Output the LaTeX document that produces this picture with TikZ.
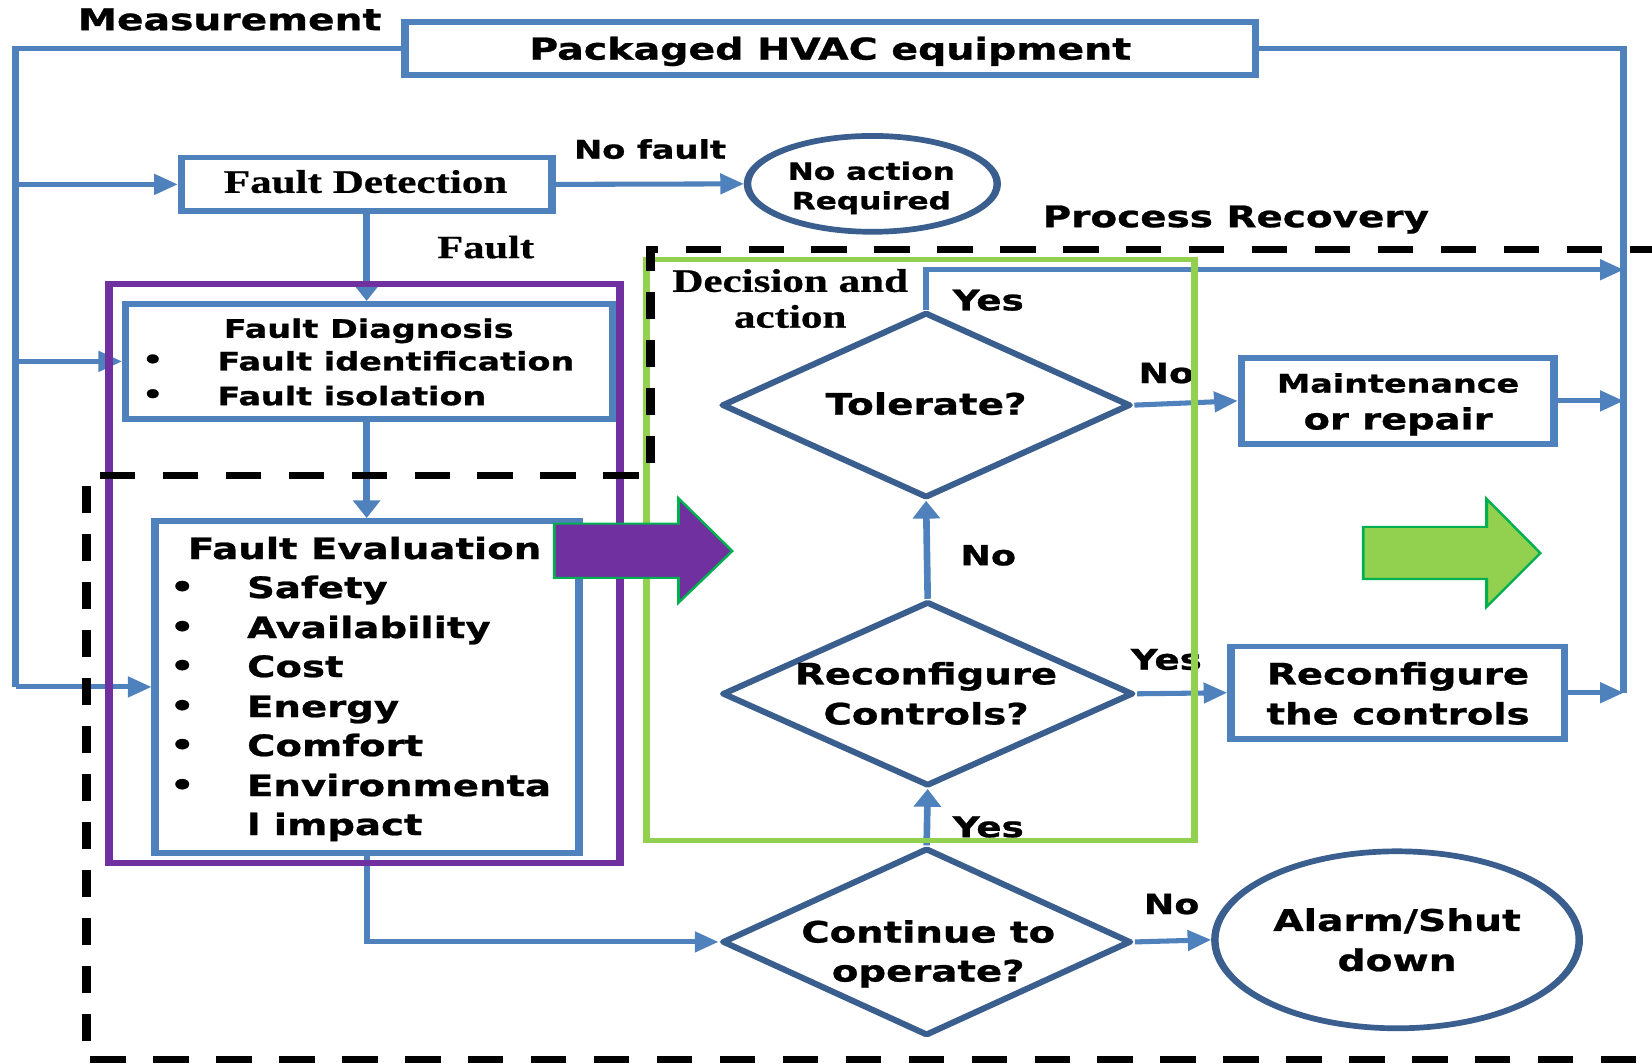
\documentclass[tikz,border=0pt]{standalone}
\usepackage{fontspec}
\setmainfont{DejaVu Sans}[BoldFeatures={FakeBold=0.8}]
\newfontfamily\tnr{Liberation Serif}[BoldFeatures={FakeBold=0.6}]
\usetikzlibrary{shapes.geometric,arrows.meta}
\definecolor{bxblue}{HTML}{4F81BD}
\definecolor{dkblue}{HTML}{3A5F8E}
\definecolor{purp}{HTML}{7030A0}
\definecolor{lgreen}{HTML}{92D050}
\definecolor{dgreen}{HTML}{00B050}
\tikzset{
  bx/.style={rectangle, draw=bxblue, line width=2.7pt, inner sep=0pt, fill=white},
  dm/.style={diamond, draw=dkblue, line width=2.7pt, inner sep=0pt, line join=round, fill=white},
  el/.style={ellipse, draw=dkblue, line width=2.7pt, inner sep=0pt, fill=white},
  conn/.style={draw=bxblue, line width=2.4pt},
  arr/.style={conn, -{Triangle[length=8.5pt,width=9.5pt]}},
  lbl/.style={inner sep=0pt, yshift=-1.2pt, text height=0.72em, text depth=0pt, font=\bfseries\fontsize{#1}{#1}\selectfont},
  tlbl/.style={inner sep=0pt, yshift=-1.2pt, text height=0.66em, text depth=0pt, font=\tnr\bfseries\fontsize{#1}{#1}\selectfont},
  bul/.style={inner sep=0pt, yshift=-0.5pt, font=\bfseries\fontsize{#1}{#1}\selectfont},
  dsh/.style={draw=black, line width=3.3pt, dash pattern=on 12.8pt off 10pt},
  blk/.style={draw=dgreen, line width=1pt, line join=miter},
}
\begin{document}
\begin{tikzpicture}[x=0.5pt,y=-0.5pt]
\useasboundingbox (0,0) rectangle (1568,1009);
\fill[white] (0,0) rectangle (1568,1009);
\begin{scope}[transform canvas={xscale=1.31}, x=0.381679pt, y=-0.5pt]
% main nodes
\node[bx, minimum width=308.2pt, minimum height=25pt] (hvac) at (788,46) {};
\node[bx, minimum width=134.2pt, minimum height=25.5pt] (fd) at (348,175) {};
\node[el, minimum width=90.5pt, minimum height=45.5pt] (noact) at (828,174.5) {};
\node[bx, minimum width=176.5pt, minimum height=54.5pt] (fdiag) at (350.5,343) {};
\node[bx, minimum width=153.6pt, minimum height=157.5pt] (fev) at (348.5,652) {};
\node[dm, minimum width=148.2pt, minimum height=88pt] (tol) at (879,384.5) {};
\node[dm, minimum width=149pt, minimum height=87.5pt] (rc) at (880.5,658.5) {};
\node[dm, minimum width=148.2pt, minimum height=89pt] (cto) at (879.5,894) {};
\node[bx, minimum width=113.2pt, minimum height=41pt] (maint) at (1326.5,380.5) {};
\node[bx, minimum width=120.8pt, minimum height=44pt] (recb) at (1326.5,657.5) {};
\node[el, minimum width=132pt, minimum height=84pt] (alarm) at (1326,892) {};
% buses
\coordinate (lbT) at (15,46);
\coordinate (lbB) at (15,652);
\coordinate (rbT) at (1541,46);
\coordinate (rbB) at (1541,657.5);
\coordinate (yT) at (879,256);
\draw[conn, line join=miter] (hvac.west) -- (lbT) -- (lbB);
\draw[arr] (lbT |- fd.west) -- (fd.west);
\draw[arr] (lbT |- fdiag.west) -- (fdiag.west);
\draw[arr] (lbB) -- (fev.west);
\draw[conn, line join=miter] (hvac.east) -- (rbT) -- (rbB);
\draw[arr] (tol.north) -- (tol.north |- yT) -- (rbT |- yT);
\draw[arr] (maint.east) -- (rbT |- maint.east);
\draw[arr] (recb.east) -- (rbB);
% flow
\draw[arr] (fd.east) -- (noact.west);
\draw[arr] (fd.south) -- (fd.south |- fdiag.north);
\draw[arr] (fd.south |- fdiag.south) -- (fd.south |- fev.north);
\draw[arr] (fev.south) |- (cto.west);
\draw[arr] (tol.east) -- (maint.west);
\draw[arr] (rc.north) -- (tol.south);
\draw[arr] (rc.east) -- (recb.west);
\draw[arr] (cto.north) -- (rc.south);
\draw[arr] (cto.east) -- (alarm.west);
% texts
\node[lbl=14.2] (tMeas) at (218,19) {Measurement};
\node[lbl=14.3] (tHvac) at (788,47) {Packaged HVAC equipment};
\node[tlbl=15.6] (tFD) at (347,174) {Fault Detection};
\node[lbl=12.2] (tNoF) at (617,141) {No fault};
\node[lbl=11.3] (tNA1) at (827,161) {No action};
\node[lbl=11.3] (tNA2) at (827,189) {Required};
\node[tlbl=15.4] (tFault) at (461,236) {Fault};
\node[lbl=14.1] (tPR) at (1173,206) {Process Recovery};
\node[lbl=12.1] (tDg) at (350,311) {Fault Diagnosis};
\node[bul=12] (bDg1) at (145,342) {•};
\node[bul=12] (bDg2) at (145,375) {•};
\node[lbl=12.1, anchor=west] (tDg1) at (206,342) {Fault identification};
\node[lbl=12.1, anchor=west] (tDg2) at (206,375) {Fault isolation};
\node[lbl=14, anchor=west] (tEv) at (178,521) {Fault Evaluation};
\node[bul=14] (bE1) at (173,558) {•};
\node[bul=14] (bE2) at (173,596) {•};
\node[bul=14] (bE3) at (173,633) {•};
\node[bul=14] (bE4) at (173,671) {•};
\node[bul=14] (bE5) at (173,708) {•};
\node[bul=14] (bE6) at (173,746) {•};
\node[lbl=14, anchor=west] (tE1) at (234,558) {Safety};
\node[lbl=14, anchor=west] (tE2) at (234,596) {Availability};
\node[lbl=14, anchor=west] (tE3) at (234,633) {Cost};
\node[lbl=14, anchor=west] (tE4) at (234,671) {Energy};
\node[lbl=14, anchor=west] (tE5) at (234,708) {Comfort};
\node[lbl=14, anchor=west] (tE6) at (234,746) {Environmenta};
\node[lbl=14, anchor=west] (tE7) at (234,783) {l impact};
\node[tlbl=15.6] (tDec1) at (750,268) {Decision and};
\node[tlbl=15.6] (tDec2) at (750,302) {action};
\node[lbl=14.1] (tTol) at (879,384) {Tolerate?};
\node[lbl=14] (tRc1) at (879,640) {Reconfigure};
\node[lbl=14] (tRc2) at (879,678) {Controls?};
\node[lbl=14] (tCt1) at (881,885) {Continue to};
\node[lbl=14] (tCt2) at (881,922) {operate?};
\node[lbl=12.1] (tMn1) at (1327,363) {Maintenance};
\node[lbl=13.9] (tMn2) at (1327,398) {or repair};
\node[lbl=14] (tRb1) at (1327,640) {Reconfigure};
\node[lbl=14] (tRb2) at (1327,678) {the controls};
\node[lbl=14.2] (tAl1) at (1326,874) {Alarm/Shut};
\node[lbl=14.2] (tAl2) at (1326,912) {down};
\node[lbl=13.5] (yes1) at (938,285) {Yes};
\node[lbl=13.2] (no1) at (1107,354) {No};
\node[lbl=13.2] (no2) at (938,527) {No};
\node[lbl=13.5] (yes2) at (1107,626) {Yes};
\node[lbl=13.5] (yes3) at (938,785) {Yes};
\node[lbl=13.2] (no3) at (1112,858) {No};
% frames
\draw[lgreen, line width=2.6pt] (613.25,246.5) rectangle (1133.75,797.5);
\draw[purp, line width=2.8pt] (103.25,269.5) rectangle (588.75,819.5);
\draw[dsh] (1640,237) -- (617,237) -- (617,451) -- (82,451) -- (82,1005.5) -- (1640,1005.5);
% block arrows
\draw[blk, fill=purp] (526,497) -- (644,497) -- (644,473) -- (695,523) -- (644,572) -- (644,548.5) -- (526,548.5) -- cycle;
\draw[blk, fill=lgreen] (1294,500) -- (1411,500) -- (1411,473.5) -- (1462,525) -- (1411,576) -- (1411,549.5) -- (1294,549.5) -- cycle;
\end{scope}
\end{tikzpicture}
\end{document}
